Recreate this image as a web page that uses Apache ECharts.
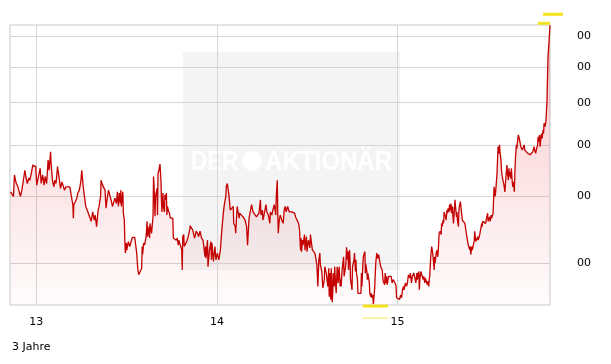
<!DOCTYPE html>
<html><head><meta charset="utf-8">
<script src="https://cdn.jsdelivr.net/npm/echarts@6/dist/echarts.min.js"></script>
<style>html,body{margin:0;padding:0;background:#fff}#c{width:611px;height:364px}</style>
</head><body><div id="c"></div>
<script>
// ---- data ----
const startDate = '2012-11-09';   // left edge of the 3-year window
const endDay = 1091;              // right edge, days after startDate
const dayOffsets = [
1,5,7,9,11,13,16,19,21,24,27,30,32,35,38,40,43,46,50,52,54,58,61,63,66,69,71,74,77,79,82,83,86,89,90,93,96,98,100,102,105,108,110,113,117,121,124,127,128,129,132,135,137,140,143,145,148,151,153,156,159,161,164,167,170,172,175,178,180,183,184,187,190,192,194,196,199,202,205,207,
212,215,217,219,221,223,224,225,227,228,229,231,232,233,235,236,239,242,244,247,250,252,255,256,258,260,263,266,267,268,270,272,275,277,278,281,282,283,286,289,290,291,293,294,297,298,299,301,302,303,305,306,307,309,310,312,313,314,316,317,318,320,322,324,326,329,330,333,336,338,340,341,344,345,347,348,349,351,352,355,357,360,363,364,367,369,372,373,376,379,381,384,387,390,392,394,395,396,399,400,403,406,407,408,411,414,416,419,422,425,
428,431,433,436,437,439,440,441,443,445,448,451,452,455,456,458,459,462,463,464,466,468,471,474,475,478,480,482,483,484,487,488,491,494,495,498,501,503,506,507,510,511,514,517,519,522,525,526,529,531,534,537,538,540,541,542,544,546,549,552,553,554,556,558,561,564,567,569,572,575,577,580,583,585,587,588,589,591,592,595,596,599,600,603,606,607,610,611,614,616,619,620,622,623,624,626,627,630,632,635,636,639,642,
644,645,647,648,649,651,652,653,655,656,657,659,660,661,663,664,665,667,668,669,671,674,675,676,678,679,680,682,683,684,686,687,688,690,691,692,694,695,696,698,699,700,702,703,706,709,710,711,713,714,715,717,718,719,721,722,723,725,726,727,729,730,731,733,734,735,737,738,739,741,742,743,745,746,748,749,752,753,754,756,757,758,760,761,762,764,765,768,770,772,774,776,777,778,780,781,783,784,787,789,791,792,793,795,796,799,801,803,805,808,809,811,812,813,815,816,819,820,822,823,824,826,827,828,830,832,835,836,838,839,840,843,844,846,847,848,850,852,854,855,857,858,859,
861,863,864,865,867,869,871,872,873,875,876,877,880,881,883,884,885,887,888,890,891,892,894,895,896,898,899,900,902,903,904,906,907,908,910,911,912,914,916,919,922,925,927,929,930,931,933,934,937,938,939,941,942,945,946,949,951,953,954,955,958,961,962,965,966,968,969,970,972,973,974,976,977,978,980,981,984,985,986,988,989,990,992,993,994,996,998,1000,1001,1002,1004,1005,1007,1008,1009,1011,1012,1013,1015,1016,1017,1019,1020,1021,1023,1024,1025,1027,1028,1029,1032,1035,1037,1039,1040,1043,1046,1048,1051,1054,1056,1059,1060,1062,1064,1066,1067,1068,1070,1071,1073,1074,1075,1077,1078,1079,1081,1082,1083,1085,1086,1087,1089,1090,1091
];
const prices = [
408,411,400,439,429,423,417,417,400,411,429,448,436,423,433,429,442,458,460,455,420,420,452,423,439,420,436,423,468,448,485,462,426,417,429,423,455,458,429,414,426,423,411,417,417,417,400,386,364,386,391,397,406,411,426,448,417,414,383,377,377,366,359,374,361,369,351,377,383,400,429,420,417,411,380,394,411,408,391,383,
397,388,408,383,406,388,411,383,400,408,372,361,331,313,327,317,329,322,320,335,335,335,334,313,293,285,289,293,322,311,327,324,336,359,336,351,334,356,341,367,436,420,367,400,414,369,442,448,455,460,429,394,374,406,383,374,403,394,406,369,383,377,372,364,361,364,334,334,331,334,324,331,331,322,317,291,336,339,322,324,329,336,346,352,349,346,344,334,344,341,336,344,334,331,331,308,322,306,331,295,317,329,304,327,302,322,304,313,304,317,
346,372,386,400,417,423,423,411,397,377,374,383,356,351,341,369,383,383,364,372,374,369,366,369,361,351,324,351,364,361,366,386,374,372,374,366,366,372,394,369,377,361,372,386,374,369,356,374,369,377,386,369,400,429,372,341,361,369,361,356,366,377,383,374,383,374,372,374,372,372,366,364,356,346,317,334,315,331,324,339,317,336,315,331,320,339,322,317,315,313,313,298,271,287,304,313,298,289,269,279,295,287,271,
293,259,287,256,293,253,263,287,271,295,283,263,279,295,275,287,295,271,279,271,291,308,283,287,295,304,321,304,315,291,317,304,279,271,267,295,293,304,313,289,304,287,279,263,265,263,287,271,300,308,311,315,287,298,289,279,287,279,275,263,259,263,258,261,251,256,271,287,300,313,311,306,311,306,304,295,291,283,277,279,273,287,275,283,273,275,283,285,283,275,279,281,279,275,271,258,256,259,256,261,258,259,267,271,267,275,271,275,285,281,287,275,279,283,281,287,285,275,287,279,285,289,267,279,289,287,279,283,275,281,279,273,277,271,279,283,308,322,313,306,291,308,300,
313,317,308,313,341,344,339,356,351,361,356,374,366,361,377,372,380,374,386,377,388,372,383,366,356,380,394,397,366,374,361,351,377,383,391,388,374,361,361,356,341,327,322,317,322,311,322,317,327,331,344,329,331,336,331,339,341,356,351,359,361,356,361,372,359,356,366,359,369,364,361,372,394,417,400,406,442,468,496,482,500,485,468,448,439,429,420,408,423,436,458,442,429,452,436,445,432,452,423,417,426,408,442,468,500,492,503,522,518,514,496,489,492,500,489,492,482,482,479,479,485,496,489,482,492,500,518,507,522,496,518,525,514,533,525,549,541,541,557,607,671,732,781,809,839
];
const yTickValues = [300, 400, 500, 600, 700, 800];
const yTickLabels = ['00', '00', '00', '00', '00', '00'];
const xTickDates = ['2013-01-01', '2014-01-01', '2015-01-01'];
const xTickLabels = ['13', '14', '15'];
const periodLabel = '3 Jahre';
const watermarkWords = ['DER', 'AKTIONÄR'];

// ---- build ----
const DAY = 86400000;
const t0 = Date.parse(startDate + 'T00:00:00Z');
const seriesData = dayOffsets.map((d, i) => [d, prices[i]]);
const xTicks = xTickDates.map(s => Math.round((Date.parse(s + 'T00:00:00Z') - t0) / DAY));
function nearestLabel(v, vals, labels) {
  let best = 0;
  for (let i = 1; i < vals.length; i++) if (Math.abs(vals[i] - v) < Math.abs(vals[best] - v)) best = i;
  return labels[best];
}

const chart = echarts.init(document.getElementById('c'), null, {renderer: 'canvas'});
const gridColor = '#d6d6d6';
chart.setOption({
  animation: false,
  backgroundColor: '#ffffff',
  grid: {left: 10, right: 61, top: 25, bottom: 59, show: true, borderColor: '#c8c8c8', borderWidth: 1, backgroundColor: 'transparent'},
  xAxis: {
    type: 'value', min: 0, max: endDay,
    axisLine: {show: false},
    axisTick: {show: false, customValues: xTicks},
    splitLine: {show: true, lineStyle: {color: gridColor, width: 1}},
    axisLabel: {
      customValues: xTicks, margin: 12, color: '#000', fontSize: 11, fontFamily: 'DejaVu Sans',
      formatter: v => nearestLabel(v, xTicks, xTickLabels)
    }
  },
  yAxis: {
    type: 'log', logBase: 10, min: 250, max: 840, position: 'right',
    axisLine: {show: false},
    axisTick: {show: false, customValues: yTickValues},
    splitLine: {show: true, lineStyle: {color: gridColor, width: 1}},
    axisLabel: {
      customValues: yTickValues, margin: 27, color: '#000', fontSize: 11, fontFamily: 'DejaVu Sans',
      formatter: v => nearestLabel(v, yTickValues, yTickLabels)
    }
  },
  graphic: [
    {type: 'rect', z: -1, shape: {x: 183, y: 52, width: 217, height: 218}, style: {fill: '#f4f4f4'}},
    {type: 'text', z: -1, x: 191, y: 148, scaleX: 0.8, style: {text: watermarkWords[0], fill: '#ffffff', font: 'bold 28px "Liberation Sans"'}},
    {type: 'circle', z: -1, shape: {cx: 252, cy: 161, r: 10}, style: {fill: '#ffffff'}},
    {type: 'text', z: -1, x: 265, y: 148, scaleX: 0.86, style: {text: watermarkWords[1], fill: '#ffffff', font: 'bold 28px "Liberation Sans"'}},
    {type: 'text', left: 12, top: 342, style: {text: periodLabel, fill: '#000', font: '11px "DejaVu Sans"'}}
  ],
  series: [{
    type: 'line',
    data: seriesData,
    showSymbol: false,
    symbol: 'none',
    sampling: false,
    lineStyle: {color: '#c40000', width: 1.3},
    areaStyle: {
      color: {type: 'linear', x: 0, y: 0, x2: 0, y2: 1, colorStops: [
        {offset: 0, color: 'rgba(228,30,45,0.36)'},
        {offset: 1, color: 'rgba(228,30,45,0.02)'}
      ]}
    },
    markPoint: {
      silent: true,
      label: {show: false},
      data: [
        {type: 'max', symbol: 'rect', symbolSize: [12, 3], symbolOffset: [-6, -2], itemStyle: {color: '#f2e31c'}},
        {type: 'max', symbol: 'rect', symbolSize: [20, 3], symbolOffset: [3, -11], itemStyle: {color: '#f2e31c'}},
        {type: 'min', symbol: 'rect', symbolSize: [25, 3], symbolOffset: [2, 2], itemStyle: {color: '#f2e31c'}},
        {type: 'min', symbol: 'rect', symbolSize: [25, 2], symbolOffset: [2, 14], itemStyle: {color: '#fbf3a0'}}
      ]
    }
  }]
});
</script>
</body></html>
